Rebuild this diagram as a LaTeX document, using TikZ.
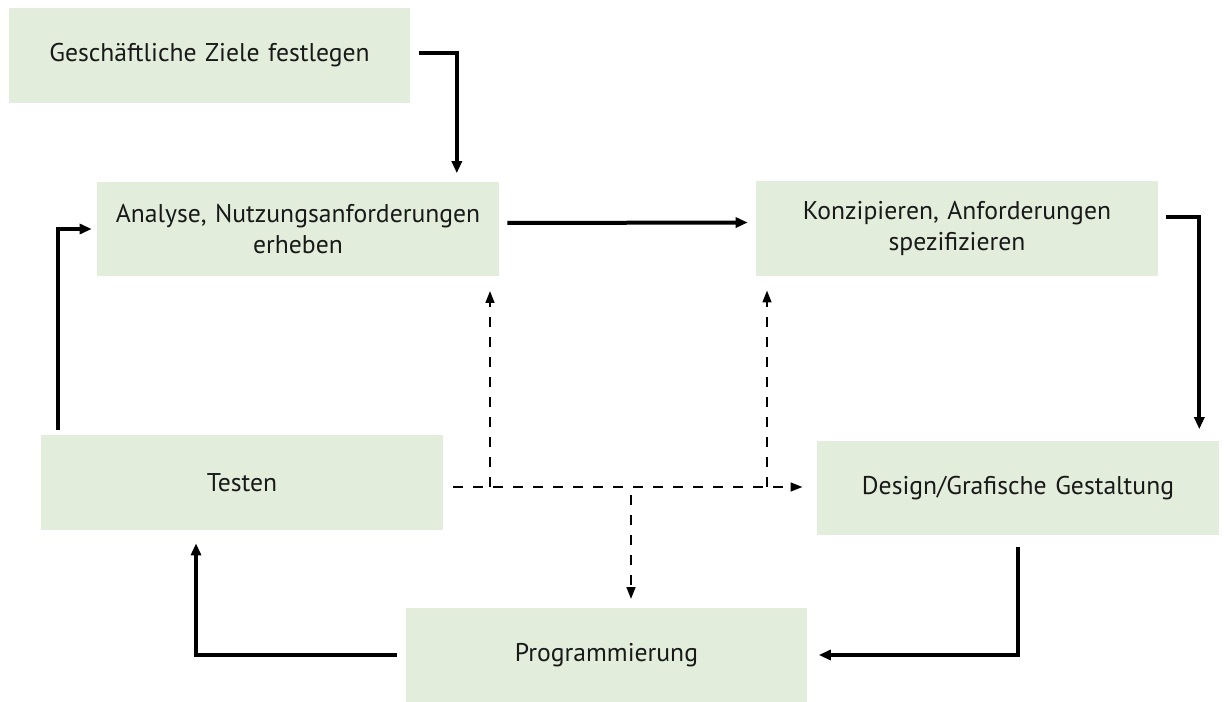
\documentclass[tikz,border=0pt]{standalone}
\usepackage{fontspec}
\setmainfont{PT Sans}
\usetikzlibrary{arrows.meta}
\definecolor{boxgreen}{RGB}{226,237,219}
\definecolor{textgray}{RGB}{25,25,25}

\begin{document}
\begin{tikzpicture}[x=0.02cm,y=-0.02cm,
  block/.style={rectangle,fill=boxgreen,text=textgray,text width=7.8cm,text centered,
    minimum width=8.04cm,minimum height=1.9cm,inner sep=0pt,
    font=\fontsize{14.6}{18}\selectfont},
  flow/.style={line width=0.08cm,-{Triangle[length=0.24cm,width=0.2cm]},
    shorten <=0.16cm,shorten >=0.16cm},
  dflow/.style={line width=0.05cm,dash pattern=on 0.2cm off 0.2cm,
    -{Triangle[length=0.24cm,width=0.17cm]}}]
\useasboundingbox (0,0) rectangle (1224,702);
\path
(209.5,55.5) node [block] (ziele) {Geschäftliche Ziele festlegen}
(298,229) node [block] (analyse) {Analyse, Nutzungsanforderungen\\ erheben}
(957,228.5) node [block] (konzept) {Konzipieren, Anforderungen\\ spezifizieren}
(242,482.5) node [block] (testen) {Testen}
(1018,488) node [block] (design) {Design/Grafische Gestaltung}
(606.5,655) node [block] (prog) {Programmierung}
;

% Hauptzyklus
\draw[flow] ([yshift=0.05cm]ziele.east) -- ++(46,0) coordinate (z1) -- (z1 |- analyse.north);
\draw[flow] ([yshift=0.12cm]analyse.east) -- ([yshift=0.12cm]konzept.west);
\draw[flow,shorten >=0.22cm] ([yshift=0.23cm]konzept.east) -| ([xshift=-0.4cm]design.north east);
\draw[flow,shorten <=0.22cm,shorten >=0.22cm] (design.south) |- (prog.east);
\draw[flow,shorten >=0.26cm] (prog.west) -| ([xshift=-0.92cm]testen.south);
\draw[flow,shorten <=0.1cm,shorten >=0.1cm] ([xshift=0.34cm]testen.north west) |- (analyse.west);

% Rueckkopplung vom Testen
\coordinate (ba) at (490,487);
\coordinate (bk) at (767,487);
\coordinate (bp) at (631,495);
\begin{scope}[every path/.style=draw]
\path[dflow,shorten <=0.2cm,shorten >=0.28cm] ([yshift=-0.09cm]testen.east) -- ([yshift=-0.09cm]testen.east -| design.west);
\path[dflow,shorten >=0.28cm] (ba) -- (ba |- analyse.south);
\path[dflow,shorten >=0.28cm] (bk) -- (bk |- konzept.south);
\path[dflow,shorten >=0.16cm] (bp) -- (bp |- prog.north);
\end{scope}
\end{tikzpicture}
\end{document}
